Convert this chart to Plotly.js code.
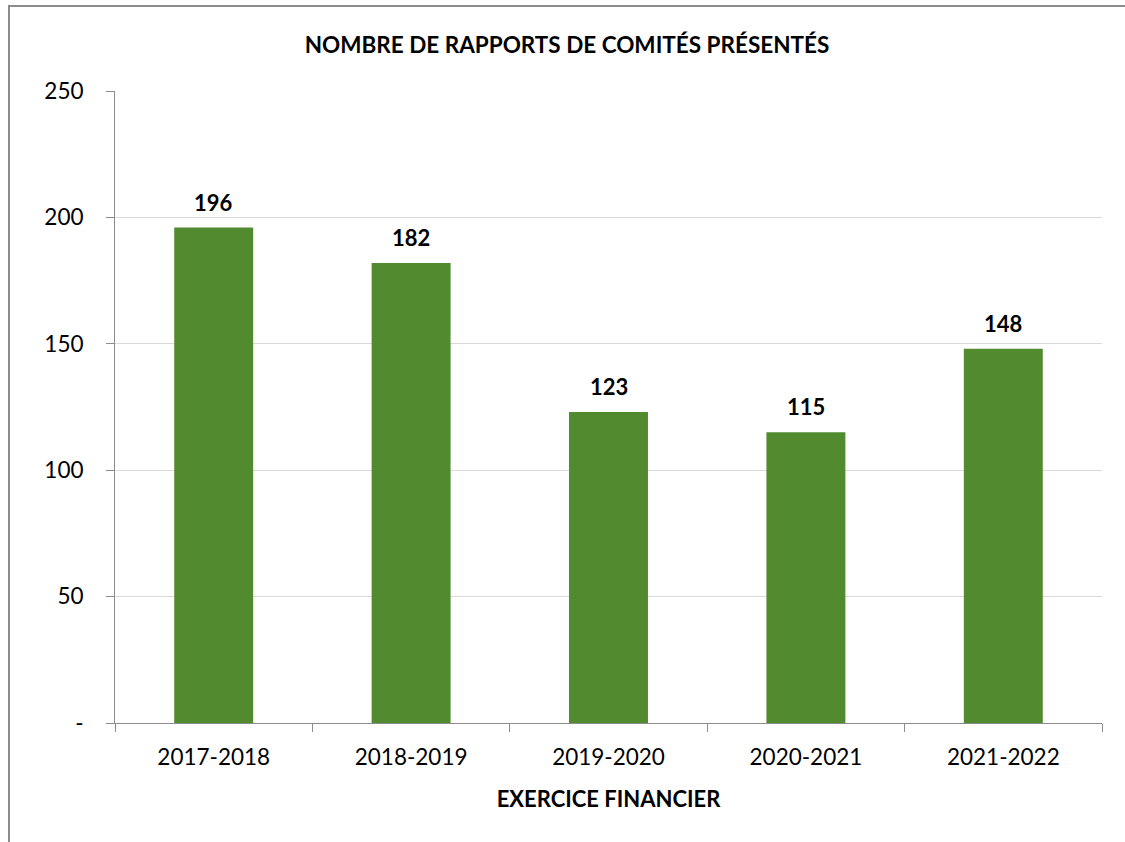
<!DOCTYPE html>
<html><head><meta charset="utf-8">
<script src="https://cdn.plot.ly/plotly-3.0.1.min.js"></script>
<style>
html,body{margin:0;padding:0;background:#fff;}
#frame{position:absolute;left:8px;top:5px;width:1125px;height:850px;border-left:2px solid #8c8c8c;border-top:2px solid #8c8c8c;}
#chart{position:absolute;left:0;top:0;width:1125px;height:842px;}
</style></head>
<body>
<div id="frame"></div>
<div id="chart"></div>
<script>
const categories = ["2017-2018","2018-2019","2019-2020","2020-2021","2021-2022"];
const values = [196, 182, 123, 115, 148];
const yTickVals = [0, 50, 100, 150, 200, 250];
const yTickText = ["-", "50", "100", "150", "200", "250"];
const titleText = "NOMBRE DE RAPPORTS DE COMITÉS PRÉSENTÉS";
const xTitleText = "EXERCICE FINANCIER";

const FONT = "Lato, 'Open Sans', sans-serif";
const trace = {
  type: "bar", x: categories, y: values,
  marker: {color: "#528a30", line: {width: 0}},
  width: 0.4, hoverinfo: "none"
};
const annotations = categories.map((c, i) => ({
  x: c, y: values[i], xref: "x", yref: "y", text: "<b>" + values[i] + "</b>",
  showarrow: false, yanchor: "bottom", yshift: 10,
  font: {family: FONT, size: 22, color: "#000"}
}));
const layout = {
  width: 1125, height: 842,
  paper_bgcolor: "rgba(0,0,0,0)", plot_bgcolor: "rgba(0,0,0,0)",
  margin: {l: 115, r: 23, t: 91, b: 119},
  showlegend: false,
  font: {family: FONT, size: 22, color: "#000"},
  title: {text: "<b>" + titleText + "</b>", x: 0.504, xanchor: "center", y: 0.947, yanchor: "middle",
          font: {family: FONT, size: 22.5, color: "#000"}},
  xaxis: {
    type: "category", tickson: "boundaries", ticks: "outside", ticklen: 8, tickcolor: "#8c8c8c", tickwidth: 1,
    showline: true, linecolor: "#8c8c8c", linewidth: 1, showgrid: false, zeroline: false,
    tickfont: {family: FONT, size: 22.5, color: "#000"}, ticklabelstandoff: 14,
    title: {text: "<b>" + xTitleText + "</b>", standoff: 22, font: {family: FONT, size: 22, color: "#000"}}
  },
  yaxis: {
    range: [0, 250], tickvals: yTickVals, ticktext: yTickText,
    ticks: "outside", ticklen: 8, tickcolor: "#8c8c8c", tickwidth: 1,
    showline: true, linecolor: "#8c8c8c", linewidth: 1,
    showgrid: true, gridcolor: "#d9d9d9", gridwidth: 1, zeroline: false,
    tickfont: {family: FONT, size: 22.5, color: "#000"}, ticklabelstandoff: 18
  },
  annotations: annotations
};
Plotly.newPlot("chart", [trace], layout, {staticPlot: true, displayModeBar: false});
</script>
</body></html>
